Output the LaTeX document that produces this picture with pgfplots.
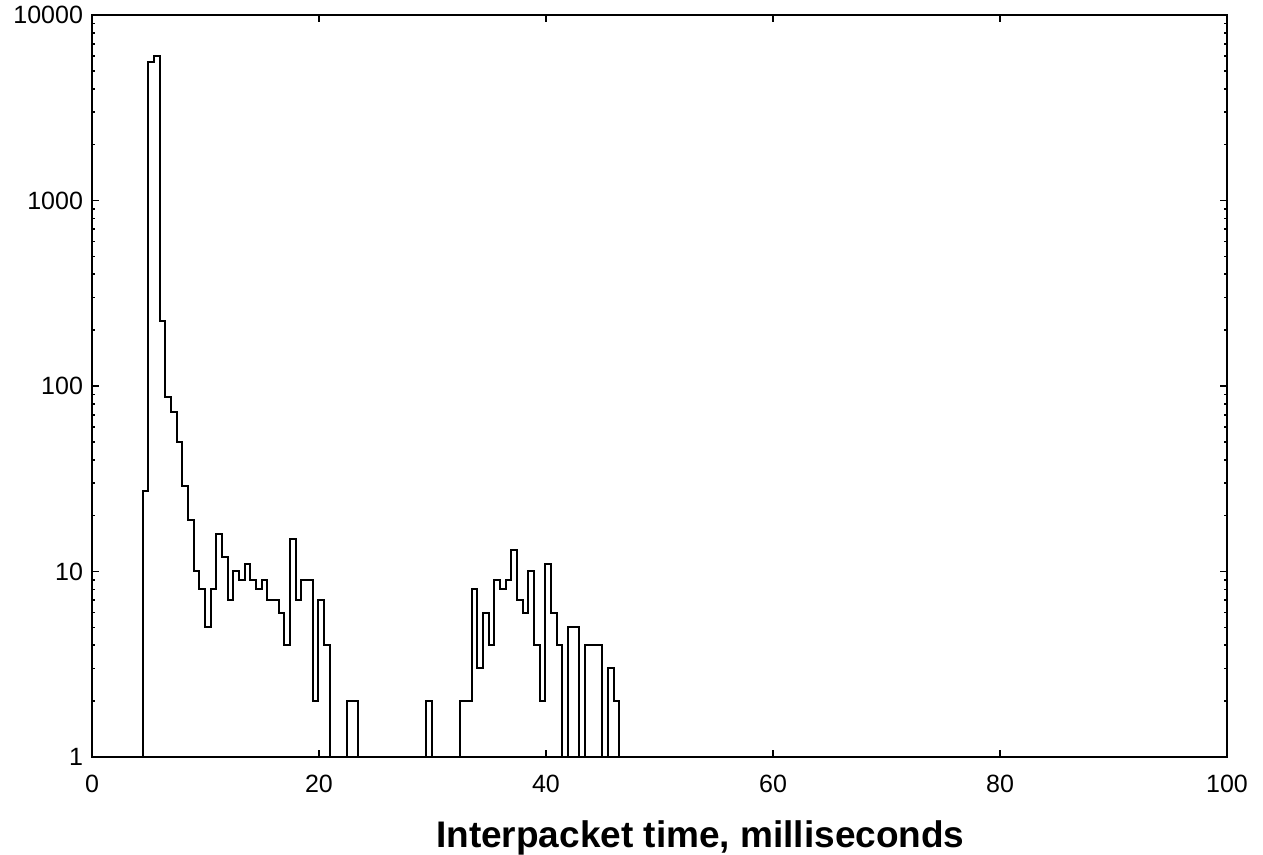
\documentclass[border=0pt]{standalone}
\usepackage{fontspec}
\setmainfont{Liberation Sans}
\usepackage{pgfplots}
\pgfplotsset{compat=1.18}

\begin{document}
\begin{tikzpicture}
\begin{axis}[
    scale only axis,
    width=567.5pt, height=371pt,
    xmin=0, xmax=100,
    ymin=1, ymax=10000,
    ymode=log,
    axis line style={line width=1pt},
    tick align=inside,
    tick pos=both,
    xtick={0,20,40,60,80,100},
    xticklabels={0,20,40,60,80,100},
    ytick={1,10,100,1000,10000},
    yticklabels={1,10,100,1000,10000},
    minor ytick={2,3,...,9,20,30,...,90,200,300,...,900,2000,3000,...,9000},
    major tick length=3.5pt,
    minor tick length=1.5pt,
    every tick/.style={black, line width=0.8pt},
    tick label style={font=\fontsize{12.5}{14}\selectfont},
    xticklabel style={yshift=-5.5pt},
    yticklabel style={xshift=-1pt},
    xlabel={\fontsize{18.5}{21}\selectfont\bfseries Interpacket time, milliseconds},
    xlabel style={at={(axis description cs:0.536,0)}, anchor=base, yshift=-45.5pt},
]
    % histogram, 0.5 ms bins; empty bins at the bottom of the axis
    \addplot[const plot, black, line width=1pt] coordinates {
        (0,1) (4.45,27) (4.95,5560) (5.45,6010) (5.95,225) (6.45,87)
        (6.95,72) (7.45,50) (7.95,29) (8.45,19) (8.95,10) (9.45,8)
        (9.95,5) (10.45,8) (10.95,16) (11.45,12) (11.95,7) (12.45,10)
        (12.95,9) (13.45,11) (13.95,9) (14.45,8) (14.95,9) (15.45,7)
        (15.95,7) (16.45,6) (16.95,4) (17.45,15) (17.95,7) (18.45,9)
        (18.95,9) (19.45,2) (19.95,7) (20.45,4) (20.95,1)
        (22.45,2) (22.95,2) (23.45,1)
        (29.45,2) (29.95,1)
        (32.45,2) (32.95,2) (33.45,8) (33.95,3) (34.45,6) (34.95,4)
        (35.45,9) (35.95,8) (36.45,9) (36.95,13) (37.45,7) (37.95,6)
        (38.45,10) (38.95,4) (39.45,2) (39.95,11) (40.45,6) (40.95,4)
        (41.45,1) (41.95,5) (42.45,5) (42.95,1) (43.45,4) (43.95,4)
        (44.45,4) (44.95,1) (45.45,3) (45.95,2) (46.45,1) (100,1)
    };
\end{axis}
\pgfresetboundingbox
\useasboundingbox ([shift={(-46pt,-49pt)}]current axis.south west)
    rectangle ([shift={(18pt,7.5pt)}]current axis.north east);
\end{tikzpicture}
\end{document}
